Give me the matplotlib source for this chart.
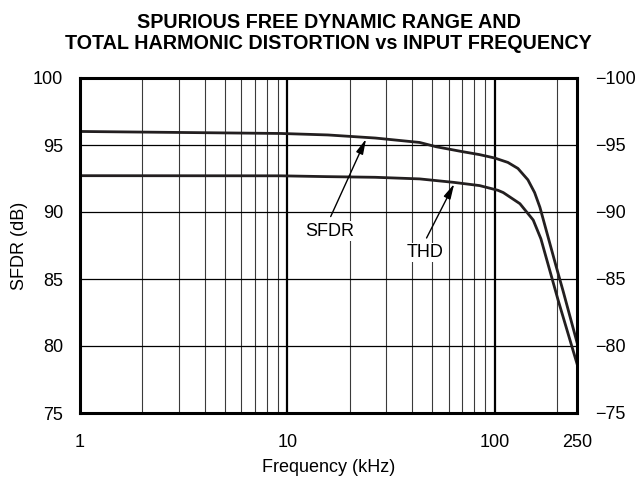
import matplotlib
matplotlib.use('Agg')
import matplotlib.pyplot as plt

plt.rcParams['font.family'] = ['Liberation Sans', 'DejaVu Sans']

# data (frequency in kHz, level in dB)
sfdr_freq = [1, 9.32, 15.7, 26.6, 43.5, 52.3, 69.1, 84.8, 100.1, 116.0, 129.7, 144.9, 156.1, 165.6, 197.8, 214.5, 250]
sfdr_db = [96.01, 95.86, 95.75, 95.52, 95.19, 94.87, 94.52, 94.28, 94.03, 93.70, 93.25, 92.4, 91.45, 90.35, 86.0, 84.07, 80.27]

thd_freq = [1, 9.32, 15.4, 26.6, 43.5, 63.7, 84.8, 103.8, 110.2, 132.6, 153.7, 167.4, 202.9, 250]
thd_db = [92.71, 92.70, 92.64, 92.59, 92.47, 92.21, 91.97, 91.62, 91.45, 90.62, 89.4, 88.0, 83.4, 78.68]

x_ticks = [1, 10, 100, 250]
x_ticklabels = ['1', '10', '100', '250']
y_ticks = [75, 80, 85, 90, 95, 100]
right_ticks = [-75, -80, -85, -90, -95, -100]

minor_grid = [2, 3, 4, 5, 6, 7, 8, 9, 20, 30, 40, 50, 60, 70, 80, 90, 200]
major_grid = [10, 100]

fig = plt.figure(figsize=(6.37, 4.87), dpi=100)
ax = fig.add_axes([80 / 637, 74 / 487, 497 / 637, 335 / 487])

ax.set_xscale('log')
ax.set_xlim(1, 250)
ax.set_ylim(75, 100)

for f in minor_grid:
    ax.axvline(f, color='#3a3a3a', lw=0.8, zorder=1)
for f in major_grid:
    ax.axvline(f, color='black', lw=1.6, zorder=1)
for v in [80, 85, 90, 95]:
    ax.axhline(v, color='black', lw=0.9, zorder=1)

ax.plot(sfdr_freq, sfdr_db, color='#231f20', lw=2.0, zorder=3, solid_joinstyle='round')
ax.plot(thd_freq, thd_db, color='#231f20', lw=2.0, zorder=3, solid_joinstyle='round')

arrow = dict(arrowstyle='-|>,head_length=0.9,head_width=0.22', color='black', lw=1.0,
             shrinkA=0, shrinkB=0)
ax.annotate('', xy=(24.0, 95.45), xytext=(16.2, 89.66), arrowprops=arrow, zorder=4)
ax.annotate('', xy=(63.9, 92.1), xytext=(47.0, 88.06), arrowprops=arrow, zorder=4)
ax.text(16.1, 88.55, 'SFDR', ha='center', va='center', fontsize=13, zorder=5,
        bbox=dict(facecolor='white', edgecolor='none', pad=1))
ax.text(46.2, 86.98, 'THD', ha='center', va='center', fontsize=13, zorder=5,
        bbox=dict(facecolor='white', edgecolor='none', pad=1))

ax.set_xticks(x_ticks)
ax.set_xticklabels(x_ticklabels)
ax.minorticks_off()
ax.set_yticks(y_ticks)
ax.tick_params(length=0, labelsize=13)
ax.tick_params(axis='x', pad=15)
ax.tick_params(axis='y', pad=12)

for s in ax.spines.values():
    s.set_linewidth(2.2)
    s.set_zorder(6)

ax2 = ax.twinx()
ax2.set_ylim(-75, -100)
ax2.set_yticks(right_ticks)
ax2.tick_params(length=0, labelsize=13, pad=13)
for s in ax2.spines.values():
    s.set_visible(False)

ax.set_xlabel('Frequency (kHz)', fontsize=13, labelpad=6)
ax.set_ylabel('SFDR (dB)', fontsize=13, labelpad=4)
ax.set_title('SPURIOUS FREE DYNAMIC RANGE AND\nTOTAL HARMONIC DISTORTION vs INPUT FREQUENCY',
             fontsize=14.2, fontweight='bold', pad=21, linespacing=1.1)

fig.savefig('out.png', dpi=100)
